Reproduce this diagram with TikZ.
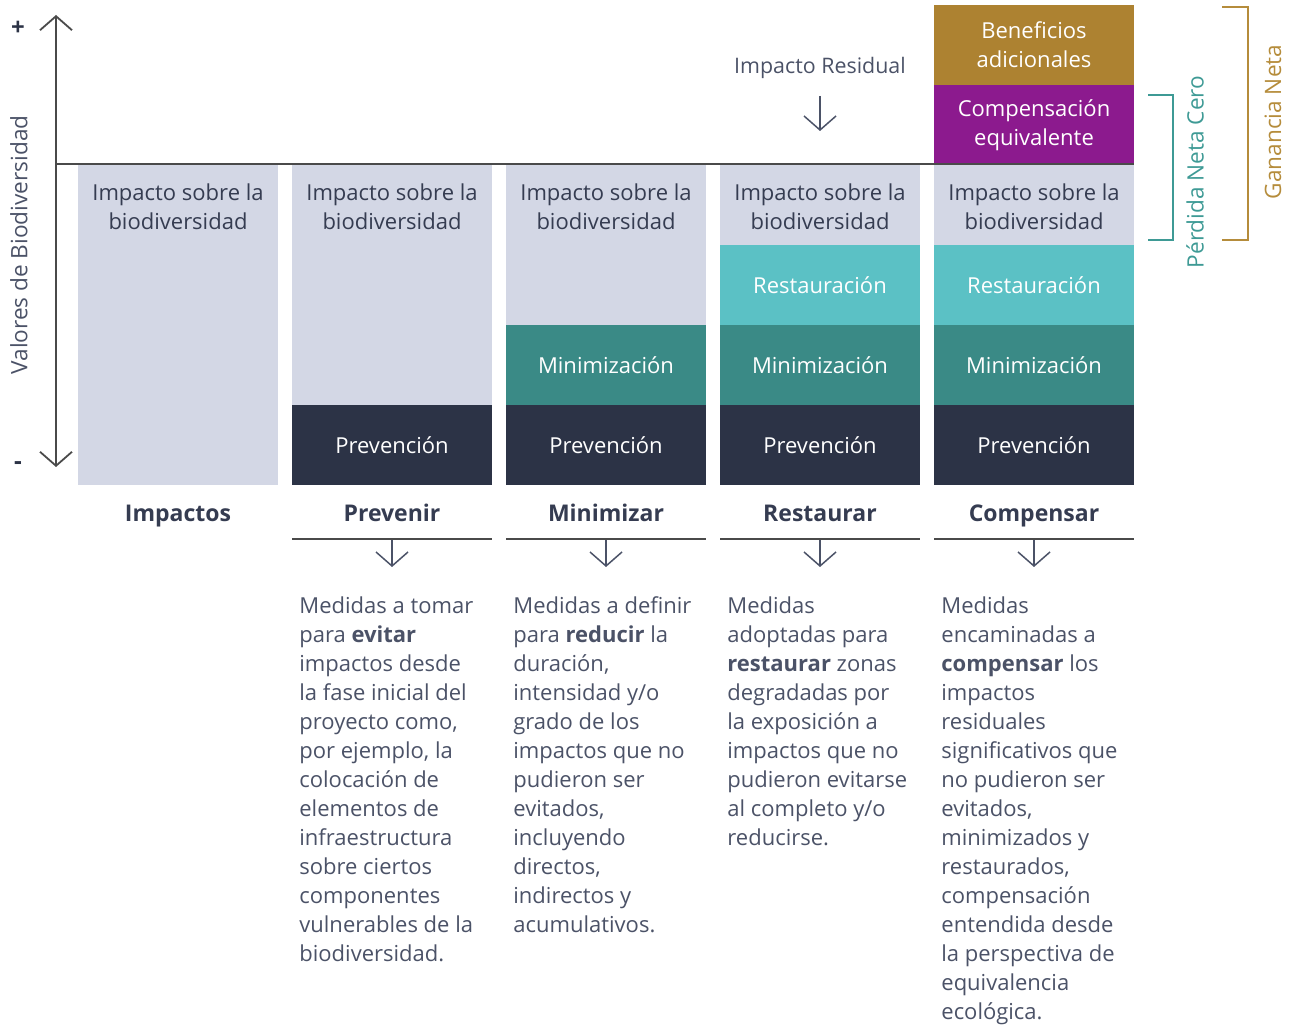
\documentclass[tikz,border=0pt]{standalone}
\usepackage{fontspec}
\setmainfont{Open Sans}
\usetikzlibrary{arrows.meta,positioning}
\definecolor{lavanda}{HTML}{D3D7E5}
\definecolor{marino}{HTML}{2C3346}
\definecolor{verdeazul}{HTML}{3A8A86}
\definecolor{turquesa}{HTML}{5BC1C5}
\definecolor{purpura}{HTML}{8C1A8E}
\definecolor{ocre}{HTML}{AD8231}
\definecolor{tinta}{HTML}{353C51}
\definecolor{gristexto}{HTML}{4B5267}
\definecolor{grisoscuro}{HTML}{4A4A4A}
\definecolor{verdellave}{HTML}{3E9A95}
\definecolor{ocrellave}{HTML}{B58C3B}
\begin{document}
\begin{tikzpicture}[x=0.5pt, y=-0.5pt, node distance=0pt,
    bloque/.style={minimum width=100pt, minimum height=40pt, inner sep=0pt, outer sep=0pt,
      align=center, font=\fontsize{11}{14.5}\selectfont},
    impacto/.style={bloque, fill=lavanda, anchor=north},
    rotulo/.style={align=center, font=\fontsize{11}{14.5}\selectfont, text=tinta},
    restaura/.style={bloque, fill=turquesa, text=white},
    minimiza/.style={bloque, fill=verdeazul, text=white},
    previene/.style={bloque, fill=marino, text=white},
    compensa/.style={bloque, fill=purpura, text=white},
    beneficio/.style={bloque, fill=ocre, text=white},
    titulo/.style={font=\fontsize{11.5}{14}\selectfont\bfseries, text=tinta, anchor=base},
    texto/.style={font=\fontsize{11}{14.5}\selectfont, text=gristexto, align=left,
      anchor=north west, inner sep=0pt},
    flecha/.style={-{Straight Barb[length=7pt, width=16pt]}, line width=0.75pt, draw=gristexto},
    regla/.style={line width=1pt, draw=grisoscuro},
    llave/.style={line width=1pt, draw=#1},
  ]
\useasboundingbox (0,0) rectangle (1291,1026);

% columnas de impacto
\foreach \n/\x/\h in {1/178/160pt, 2/392/120pt, 3/606/80pt, 4/820/40pt, 5/1034/40pt}
  \node[impacto, minimum height=\h] (imp\n) at (\x,165) {};
\foreach \n in {1,...,5}
  \node[rotulo] (impT\n) at ([yshift=-20.75pt]imp\n.north) {Impacto sobre la\\biodiversidad};

\node[previene, below=of imp2] (prev2) {Prevención};
\node[minimiza, below=of imp3] (min3) {Minimización};
\node[previene, below=of min3] (prev3) {Prevención};
\node[restaura, below=of imp4] (res4) {Restauración};
\node[minimiza, below=of res4] (min4) {Minimización};
\node[previene, below=of min4] (prev4) {Prevención};
\node[restaura, below=of imp5] (res5) {Restauración};
\node[minimiza, below=of res5] (min5) {Minimización};
\node[previene, below=of min5] (prev5) {Prevención};
\node[compensa, above=of imp5] (comp5) {Compensación\\equivalente};
\node[beneficio, above=of comp5] (benef5) {Beneficios\\adicionales};

% ejes
\coordinate (origen) at (56,164);
\coordinate (tope) at (56,15);
\coordinate (fondo) at (56,467);
\draw[regla, line width=0.9pt, {Straight Barb[length=7pt, width=16pt]}-{Straight Barb[length=7pt, width=16pt]}] (tope) -- (fondo);
\draw[regla] (origen) -- (origen -| imp5.north east);
\node[font=\fontsize{12}{12}\selectfont\bfseries, text=marino] (mas) at (18,28) {+};
\node[font=\fontsize{12}{12}\selectfont\bfseries, text=marino] (menos) at (18,466) {-};
\node[rotate=90, font=\fontsize{11.3}{12}\selectfont, text=gristexto] (ejey) at (19,245) {Valores de Biodiversidad};

% impacto residual
\node[font=\fontsize{10.7}{12}\selectfont, text=gristexto] (residual) at (820,68) {Impacto Residual};
\draw[flecha, shorten <=5pt, shorten >=17pt] (residual.south) -- (imp4.north);

% llaves
\draw[llave=verdellave] (1148,95) -| (1173,240) -- (1148,240);
\node[rotate=90, font=\fontsize{11.3}{12}\selectfont, text=verdellave] (cero) at (1195,172) {Pérdida Neta Cero};
\draw[llave=ocrellave] (1222,7) -| (1248,240) -- (1222,240);
\node[rotate=90, font=\fontsize{11.3}{12}\selectfont, text=ocrellave] (ganancia) at (1273,122) {Ganancia Neta};

% titulos
\foreach \n/\x/\t in {1/178/Impactos, 2/392/Prevenir, 3/606/Minimizar, 4/820/Restaurar, 5/1034/Compensar}
  \node[titulo] (tit\n) at (\x,522) {\t};

% descripciones
\node[texto] (desc2) at (299,596) {Medidas a tomar\\para \textbf{evitar}\\impactos desde\\la fase inicial del\\proyecto como,\\por ejemplo, la\\colocación de\\elementos de\\infraestructura\\sobre ciertos\\componentes\\vulnerables de la\\biodiversidad.};
\node[texto] (desc3) at (513,596) {Medidas a definir\\para \textbf{reducir} la\\duración,\\intensidad y/o\\grado de los\\impactos que no\\pudieron ser\\evitados,\\incluyendo\\directos,\\indirectos y\\acumulativos.};
\node[texto] (desc4) at (727,596) {Medidas\\adoptadas para\\\textbf{restaurar} zonas\\degradadas por\\la exposición a\\impactos que no\\pudieron evitarse\\al completo y/o\\reducirse.};
\node[texto] (desc5) at (941,596) {Medidas\\encaminadas a\\\textbf{compensar} los\\impactos\\residuales\\significativos que\\no pudieron ser\\evitados,\\minimizados y\\restaurados,\\compensación\\entendida desde\\la perspectiva de\\equivalencia\\ecológica.};

% reglas y flechas
\foreach \n/\x in {2/392, 3/606, 4/820, 5/1034} {
  \coordinate (izq\n) at (\x-100,539);
  \coordinate (der\n) at (\x+100,539);
  \coordinate (baja\n) at (\x,540);
  \draw[regla] (izq\n) -- (der\n);
  \draw[flecha, shorten >=14.5pt] (baja\n) -- (baja\n |- desc\n.north);
}
\end{tikzpicture}
\end{document}
